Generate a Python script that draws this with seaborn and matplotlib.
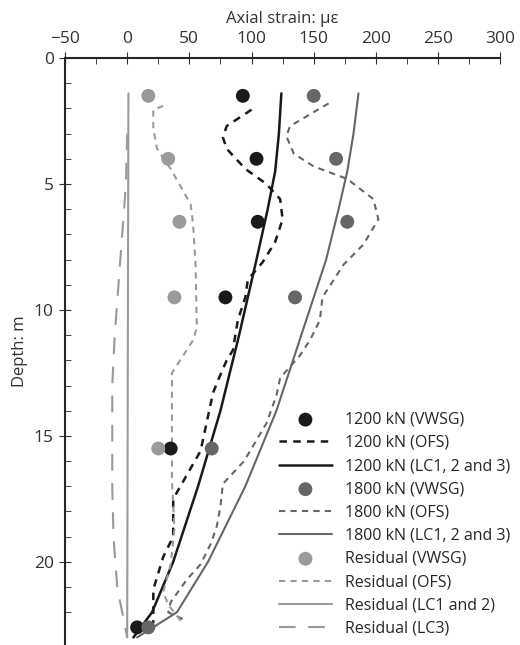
import numpy as np
import pandas as pd
import matplotlib
matplotlib.use("Agg")
import matplotlib.pyplot as plt
import seaborn as sns

# VWSG point readings (strain, depth)
vw_depth = [1.5, 4.0, 6.5, 9.5, 15.5, 22.6]
vw_1200 = [93, 104, 105, 79, 35, 8]
vw_1800 = [150, 168, 177, 135, 68, 17]
res_vw_depth = [1.5, 4.0, 6.5, 9.5, 15.5]
res_vw = [17, 33, 42, 38, 25]

# OFS profiles
ofs1200_d = [2.05, 2.7, 3.15, 3.6, 4.4, 5.0, 5.6, 6.4, 7.3, 8.1, 8.8, 9.5, 10.4, 11.6, 12.0, 12.8, 13.3, 15.6, 17.5, 19.0, 19.8, 21.1, 22.4, 22.9]
ofs1200_x = [100, 80, 77, 80, 95, 112, 123, 125, 119, 109, 97, 95, 89, 85, 80, 73, 69, 59, 37, 37, 29, 21, 21, 5]
ofs1800_d = [1.8, 2.7, 3.1, 3.8, 4.3, 4.8, 5.6, 6.4, 7.4, 8.2, 9.5, 10.4, 11.2, 11.8, 12.7, 13.4, 14.5, 16.0, 16.9, 17.8, 18.6, 19.3, 20.1, 20.7, 21.6, 22.0, 22.3]
ofs1800_x = [162, 131, 128, 134, 150, 177, 198, 202, 190, 174, 157, 155, 147, 139, 123, 120, 112, 94, 77, 75, 72, 67, 59, 48, 35, 33, 46]
ofsres_d = [1.9, 2.05, 2.8, 3.6, 4.4, 5.8, 6.6, 8.2, 10.7, 11.2, 12.5, 13.9, 16.8, 18.7, 20.1, 21.2, 21.7, 22.4]
ofsres_x = [29, 21, 21, 24, 35, 51, 53, 55, 56, 53, 36, 36, 36, 38, 35, 29, 33, 44]

# LC model profiles
lc_d = [1.4, 3.0, 4.5, 6.0, 8.0, 11.0, 14.0, 17.0, 20.0, 22.0, 23.0]
lc1200_x = [124, 122, 119, 113, 104, 90, 75, 57, 37, 20, 5]
lc1800_x = [186, 182, 177, 170, 160, 140, 120, 95, 65, 40, 8]
lcres_d = [1.4, 23.0]
lcres_x = [1, 0]
lc3_d = [3, 5, 7, 9, 11, 13, 15, 17, 19, 21, 23]
lc3_x = [0, -1, -4, -7, -10, -12, -12, -12, -11, -8, 0]

black = "#1a1a1a"
dark = "#666666"
light = "#9a9a9a"

sns.set_style("ticks")
plt.rcParams["font.family"] = ["Open Sans", "DejaVu Sans"]
fig, ax = plt.subplots(figsize=(5.2, 6.45), dpi=100)
fig.subplots_adjust(left=0.125, right=0.962, top=0.91, bottom=0.0)

def line(x, d, color, ls, lw, label):
    df = pd.DataFrame({"x": x, "d": d})
    sns.lineplot(data=df, x="x", y="d", sort=False, estimator=None, color=color,
                 linestyle=ls, lw=lw, label=label, ax=ax)

def pts(x, d, color, label):
    ax.scatter(x, d, s=100, color=color, label=label, zorder=5, edgecolor="none")

pts(vw_1200, vw_depth, black, "1200 kN (VWSG)")
line(ofs1200_x, ofs1200_d, black, (0, (3, 2.5)), 1.8, "1200 kN (OFS)")
line(lc1200_x, lc_d, black, "-", 1.8, "1200 kN (LC1, 2 and 3)")
pts(vw_1800, vw_depth, dark, "1800 kN (VWSG)")
line(ofs1800_x, ofs1800_d, dark, (0, (3, 2.5)), 1.5, "1800 kN (OFS)")
line(lc1800_x, lc_d, dark, "-", 1.5, "1800 kN (LC1, 2 and 3)")
pts(res_vw, res_vw_depth, light, "Residual (VWSG)")
line(ofsres_x, ofsres_d, light, (0, (3, 2.5)), 1.5, "Residual (OFS)")
line(lcres_x, lcres_d, light, "-", 1.5, "Residual (LC1 and 2)")
line(lc3_x, lc3_d, light, (0, (8, 6)), 1.5, "Residual (LC3)")

ax.set_xlim(-50, 300)
ax.set_ylim(23.3, 0)
ax.xaxis.tick_top()
ax.xaxis.set_label_position("top")
ax.set_xticks(np.arange(-50, 301, 50))
ax.set_xticklabels(["\u221250", "0", "50", "100", "150", "200", "250", "300"])
ax.set_xticks(np.arange(-50, 301, 25), minor=True)
ax.set_yticks([0, 5, 10, 15, 20])
ax.set_yticks(np.arange(0, 23, 1), minor=True)
ax.set_xlabel("Axial strain: \u03bc\u03b5", fontsize=12, color="#333333", labelpad=6)
ax.set_ylabel("Depth: m", fontsize=12, color="#333333")
for s in ["right", "bottom"]:
    ax.spines[s].set_visible(False)
ax.tick_params(axis="both", labelsize=12.5, colors="#333333", length=5, direction="in")
ax.tick_params(axis="x", which="major", direction="inout", length=9)
ax.tick_params(axis="y", which="major", direction="inout", length=9)
ax.tick_params(which="minor", direction="in", length=4)
ax.spines["top"].set_linewidth(1.5)
ax.spines["left"].set_linewidth(1.5)

ax.legend(loc="lower right", frameon=False, fontsize=11.5, handlelength=3.3,
          labelspacing=0.45, bbox_to_anchor=(1.055, -0.01))
fig.savefig("out.png", dpi=100)
